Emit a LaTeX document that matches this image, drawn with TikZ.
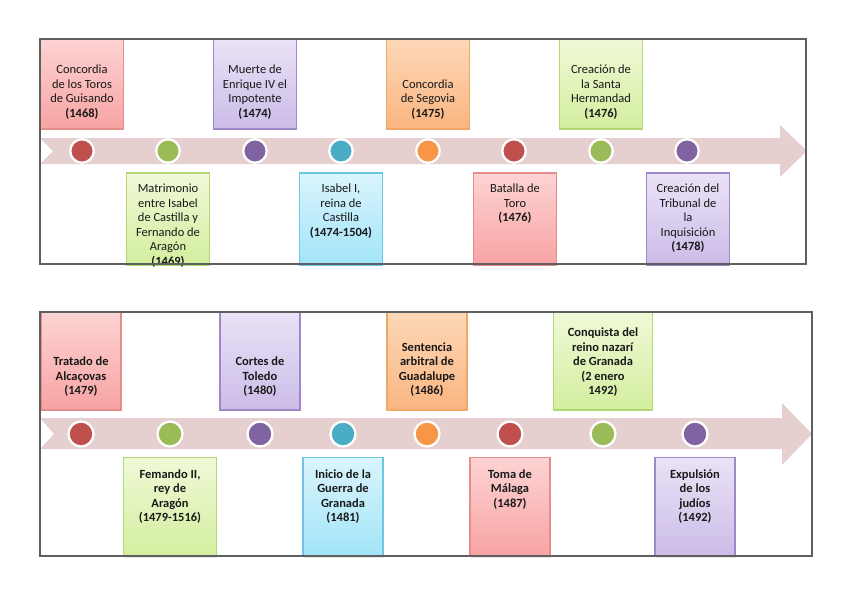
\documentclass[tikz,border=0pt]{standalone}
\usepackage{fontspec}
\setmainfont{Carlito}
\usepackage{tikz}
\usetikzlibrary{positioning, shadows}

\definecolor{bandcol}{HTML}{E6CFCF}
\definecolor{framecol}{HTML}{5F5F5F}
\definecolor{dotred}{HTML}{C0504D}
\definecolor{dotgreen}{HTML}{9BBB59}
\definecolor{dotpurple}{HTML}{8064A2}
\definecolor{dotblue}{HTML}{4BACC6}
\definecolor{dotorange}{HTML}{F79646}
\definecolor{redtop}{HTML}{FDD3D3}
\definecolor{redbot}{HTML}{F8A3A3}
\definecolor{redline}{HTML}{E58C8C}
\definecolor{purtop}{HTML}{EAE2F6}
\definecolor{purbot}{HTML}{CBBCE8}
\definecolor{purline}{HTML}{9F88C8}
\definecolor{oratop}{HTML}{FDD8B8}
\definecolor{orabot}{HTML}{FAB580}
\definecolor{oraline}{HTML}{F1A765}
\definecolor{grntop}{HTML}{F0F9D8}
\definecolor{grnbot}{HTML}{D3EE9E}
\definecolor{grnline}{HTML}{B3D677}
\definecolor{blutop}{HTML}{DAF5FD}
\definecolor{blubot}{HTML}{A2E4F8}
\definecolor{bluline}{HTML}{6FC6E2}

\begin{document}
\begin{tikzpicture}[x=0.02cm, y=-0.02cm,
    evtbox/.style={
        draw,
        minimum width=1.66cm,
        minimum height=1.8cm,
        inner sep=0pt,
        line width=0.6pt,
        drop shadow={opacity=0.18, shadow xshift=0.5pt, shadow yshift=-0.8pt}
    },
    redbox/.style={evtbox, draw=redline, top color=redtop, bottom color=redbot},
    purbox/.style={evtbox, draw=purline, top color=purtop, bottom color=purbot},
    orabox/.style={evtbox, draw=oraline, top color=oratop, bottom color=orabot},
    grnbox/.style={evtbox, draw=grnline, top color=grntop, bottom color=grnbot},
    blubox/.style={evtbox, draw=bluline, top color=blutop, bottom color=blubot},
    evttxt/.style={
        font=\fontsize{7.1}{8.3}\selectfont,
        align=center,
        inner sep=0pt,
        text=black!90
    },
    dot/.style={
        circle,
        draw=white,
        line width=1.3pt,
        minimum size=0.47cm,
        inner sep=0pt
    },
    band/.style={fill=bandcol},
    frame/.style={draw=framecol, line width=0.7pt}
]

\useasboundingbox (0,0) rectangle (848,599);

% =====================
% Top timeline (1468-1478)
% =====================

\fill[band] (40,138) -- (780,138) -- (780,125) -- (807,151) -- (780,177)
    -- (780,164) -- (40,164) -- (53,151) -- cycle;

\node[dot, fill=dotred]    (a1) at (82,151) {};
\node[dot, fill=dotgreen]  (a2) at (168,151) {};
\node[dot, fill=dotpurple] (a3) at (255,151) {};
\node[dot, fill=dotblue]   (a4) at (341,151) {};
\node[dot, fill=dotorange] (a5) at (428,151) {};
\node[dot, fill=dotred]    (a6) at (514,151) {};
\node[dot, fill=dotgreen]  (a7) at (601,151) {};
\node[dot, fill=dotpurple] (a8) at (687,151) {};

% events above the band
\node[redbox] (ea1) at (82,84) {};
\node[evttxt, anchor=south] (ta1) at ([yshift=0.2cm]ea1.south)
    {Concordia\\de los Toros\\de Guisando\\\textbf{(1468)}};

\node[purbox] (ea3) at (255,84) {};
\node[evttxt, anchor=south] (ta3) at ([yshift=0.2cm]ea3.south)
    {Muerte de\\Enrique IV el\\Impotente\\\textbf{(1474)}};

\node[orabox] (ea5) at (428,84) {};
\node[evttxt, anchor=south] (ta5) at ([yshift=0.2cm]ea5.south)
    {Concordia\\de Segovia\\\textbf{(1475)}};

\node[grnbox] (ea7) at (601,84) {};
\node[evttxt, anchor=south] (ta7) at ([yshift=0.2cm]ea7.south)
    {Creación de\\la Santa\\Hermandad\\\textbf{(1476)}};

% events below the band
\node[grnbox, minimum height=1.84cm] (ea2) at (168,219) {};
\node[evttxt, anchor=north] (ta2) at ([yshift=-0.22cm]ea2.north)
    {Matrimonio\\entre Isabel\\de Castilla y\\Fernando de\\Aragón\\\textbf{(1469)}};

\node[blubox, minimum height=1.84cm] (ea4) at (341,219) {};
\node[evttxt, anchor=north] (ta4) at ([yshift=-0.22cm]ea4.north)
    {Isabel I,\\reina de\\Castilla\\\textbf{(1474-1504)}};

\node[redbox, minimum height=1.84cm] (ea6) at (515,219) {};
\node[evttxt, anchor=north] (ta6) at ([yshift=-0.22cm]ea6.north)
    {Batalla de\\Toro\\\textbf{(1476)}};

\node[purbox, minimum height=1.84cm] (ea8) at (688,219) {};
\node[evttxt, anchor=north] (ta8) at ([yshift=-0.22cm]ea8.north)
    {Creación del\\Tribunal de\\la\\Inquisición\\\textbf{(1478)}};

\draw[frame] (40,39) rectangle (806,264);

% =====================
% Bottom timeline (1479-1492)
% =====================

\fill[band] (40,418) -- (782,418) -- (782,403) -- (812,434) -- (782,465)
    -- (782,449) -- (40,449) -- (54,434) -- cycle;

\node[dot, fill=dotred, minimum size=0.5cm]    (b1) at (81,434) {};
\node[dot, fill=dotgreen, minimum size=0.5cm]  (b2) at (170,434) {};
\node[dot, fill=dotpurple, minimum size=0.5cm] (b3) at (260,434) {};
\node[dot, fill=dotblue, minimum size=0.5cm]   (b4) at (343,434) {};
\node[dot, fill=dotorange, minimum size=0.5cm] (b5) at (427,434) {};
\node[dot, fill=dotred, minimum size=0.5cm]    (b6) at (510,434) {};
\node[dot, fill=dotgreen, minimum size=0.5cm]  (b7) at (603,434) {};
\node[dot, fill=dotpurple, minimum size=0.5cm] (b8) at (695,434) {};

% events above the band
\node[redbox, minimum width=1.6cm, minimum height=1.96cm] (eb1) at (81,361) {};
\node[evttxt, anchor=south] (tb1) at ([yshift=0.27cm]eb1.south)
    {\textbf{Tratado de}\\\textbf{Alcaçovas}\\\textbf{(1479)}};

\node[purbox, minimum width=1.6cm, minimum height=1.96cm] (eb3) at (260,361) {};
\node[evttxt, anchor=south] (tb3) at ([yshift=0.27cm]eb3.south)
    {\textbf{Cortes de}\\\textbf{Toledo}\\\textbf{(1480)}};

\node[orabox, minimum width=1.6cm, minimum height=1.96cm] (eb5) at (427,361) {};
\node[evttxt, anchor=south] (tb5) at ([yshift=0.27cm]eb5.south)
    {\textbf{Sentencia}\\\textbf{arbitral de}\\\textbf{Guadalupe}\\\textbf{(1486)}};

\node[grnbox, minimum width=1.98cm, minimum height=1.96cm] (eb7) at (603,361) {};
\node[evttxt, anchor=south] (tb7) at ([yshift=0.27cm]eb7.south)
    {\textbf{Conquista del}\\\textbf{reino nazarí}\\\textbf{de Granada}\\\textbf{(2 enero}\\\textbf{1492)}};

% events below the band
\node[grnbox, minimum width=1.86cm, minimum height=1.98cm] (eb2) at (170,507) {};
\node[evttxt, anchor=north] (tb2) at ([yshift=-0.24cm]eb2.north)
    {\textbf{Femando II,}\\\textbf{rey de}\\\textbf{Aragón}\\\textbf{(1479-1516)}};

\node[blubox, minimum width=1.6cm, minimum height=1.98cm] (eb4) at (343,507) {};
\node[evttxt, anchor=north] (tb4) at ([yshift=-0.24cm]eb4.north)
    {\textbf{Inicio de la}\\\textbf{Guerra de}\\\textbf{Granada}\\\textbf{(1481)}};

\node[redbox, minimum width=1.6cm, minimum height=1.98cm] (eb6) at (510,507) {};
\node[evttxt, anchor=north] (tb6) at ([yshift=-0.24cm]eb6.north)
    {\textbf{Toma de}\\\textbf{Málaga}\\\textbf{(1487)}};

\node[purbox, minimum width=1.6cm, minimum height=1.98cm] (eb8) at (695,507) {};
\node[evttxt, anchor=north] (tb8) at ([yshift=-0.24cm]eb8.north)
    {\textbf{Expulsión}\\\textbf{de los}\\\textbf{judíos}\\\textbf{(1492)}};

\draw[frame] (40,312) rectangle (812,556);

\end{tikzpicture}
\end{document}
